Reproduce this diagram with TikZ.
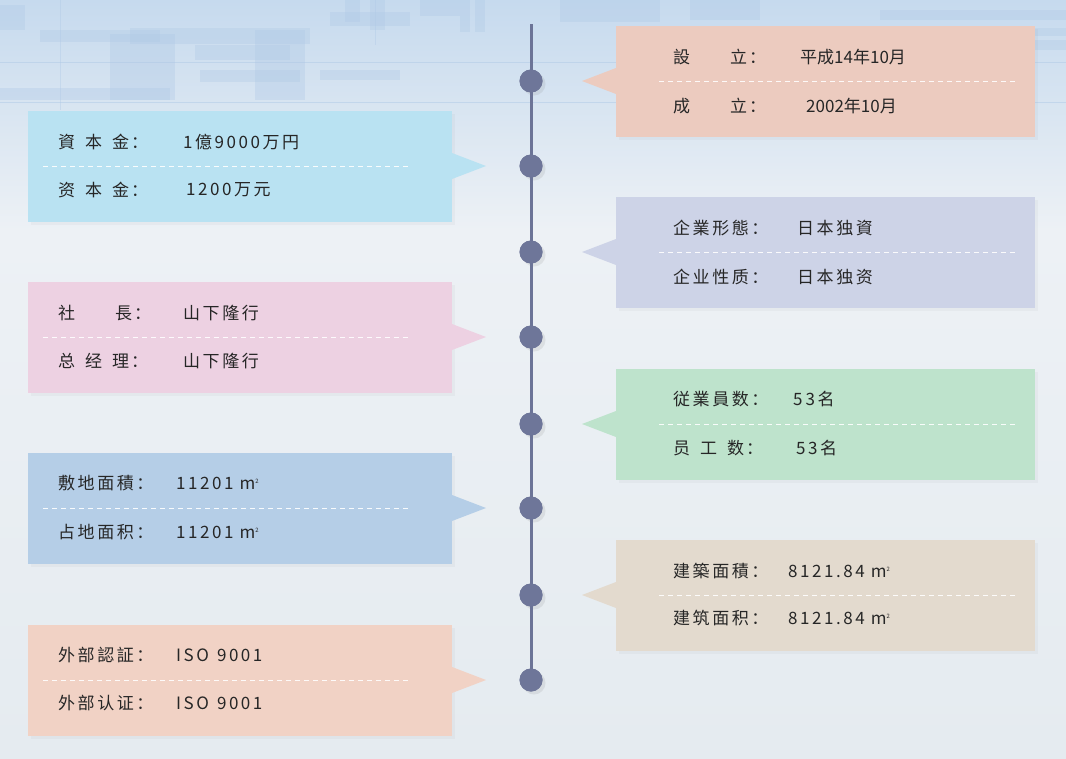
\documentclass[tikz,border=0pt]{standalone}
\usepackage{fontspec}
\setmainfont[LetterSpace=15]{Noto Sans CJK SC}
\newfontfamily\tightfont{Noto Sans CJK SC}
\usetikzlibrary{shadows}
\definecolor{txtc}{HTML}{262626}
\definecolor{linec}{HTML}{6C7497}
\definecolor{dotc}{HTML}{6E7699}
\definecolor{cSalmon}{HTML}{ECCBBF}
\definecolor{cSky}{HTML}{B9E2F2}
\definecolor{cLav}{HTML}{CDD3E7}
\definecolor{cPink}{HTML}{EDD1E2}
\definecolor{cGreen}{HTML}{BEE3CC}
\definecolor{cBlue}{HTML}{B5CEE7}
\definecolor{cBeige}{HTML}{E3DACE}
\definecolor{cPeach}{HTML}{F1D2C5}
\definecolor{bgTop}{HTML}{C6DAEE}
\definecolor{bgMid}{HTML}{EDF1F5}
\definecolor{bgBot}{HTML}{E5EBF0}
\definecolor{deco}{HTML}{AFC9E6}
\newcommand\sqm{\hspace{6pt}m\raisebox{0.55ex}{\fontsize{6}{6}\selectfont 2}}
\begin{document}
\begin{tikzpicture}[x=1pt,y=-1pt,
  softshadow/.style={drop shadow={shadow xshift=3pt, shadow yshift=-3pt, opacity=0.06}},
  lbox/.style={rectangle, minimum width=424pt, minimum height=111pt, inner sep=0pt, softshadow},
  rbox/.style={rectangle, minimum width=419pt, minimum height=111pt, inner sep=0pt, softshadow},
  dotnode/.style={circle, fill=dotc, minimum size=23pt, inner sep=0pt,
     drop shadow={shadow xshift=3pt, shadow yshift=-3pt, opacity=0.15}},
  sep/.style={draw=white, line width=1pt, dash pattern=on 5pt off 4pt, opacity=0.9},
  txt/.style={anchor=west, inner sep=0pt, text=txtc, font=\fontsize{17}{19}\selectfont},
  decorect/.style={fill=deco, opacity=0.35}
]
\useasboundingbox (0,0) rectangle (1066,758);
% background
\shade[top color=bgTop, bottom color=bgMid] (0,0) rectangle (1066,230);
\shade[top color=bgMid, bottom color=bgBot] (0,230) rectangle (1066,758);
% faint technical pattern at the top
\fill[decorect] (40,30) rectangle (160,42);
\fill[decorect] (130,28) rectangle (310,44);
\fill[decorect] (110,34) rectangle (175,100);
\fill[decorect] (195,45) rectangle (290,60);
\fill[decorect] (200,70) rectangle (300,82);
\fill[decorect] (255,30) rectangle (305,100);
\fill[decorect] (330,12) rectangle (410,26);
\fill[decorect] (320,70) rectangle (400,80);
\fill[decorect] (420,0) rectangle (460,16);
\fill[decorect] (345,0) rectangle (360,22);
\fill[decorect] (370,0) rectangle (385,30);
\fill[decorect] (460,0) rectangle (470,32);
\fill[decorect] (475,0) rectangle (485,32);
\fill[decorect] (0,88) rectangle (170,100);
\fill[decorect] (0,5) rectangle (25,30);
\fill[decorect] (560,0) rectangle (660,22);
\fill[decorect] (690,0) rectangle (760,20);
\fill[decorect] (880,10) rectangle (1066,20);
\fill[decorect] (900,28) rectangle (1066,36);
\fill[decorect] (960,40) rectangle (1066,50);
\draw[deco, opacity=0.5] (0,62) -- (1066,62);
\draw[deco, opacity=0.5] (0,102) -- (1066,102);
\draw[deco, opacity=0.4] (60,0) -- (60,110);
\draw[deco, opacity=0.4] (375,0) -- (375,45);

% timeline
\coordinate (top) at (531,24);
\node[dotnode] (d1) at (531,81) {};
\node[dotnode] (d2) at (531,166) {};
\node[dotnode] (d3) at (531,252) {};
\node[dotnode] (d4) at (531,337) {};
\node[dotnode] (d5) at (531,424) {};
\node[dotnode] (d6) at (531,508) {};
\node[dotnode] (d7) at (531,595) {};
\node[dotnode] (d8) at (531,680) {};
\draw[linec, line width=3pt] (top) -- (d8.center);
\foreach \n in {d1,d2,d3,d4,d5,d6,d7,d8}{
  \node[circle, fill=dotc, minimum size=23pt, inner sep=0pt] at (\n) {};
}

% right boxes
\node[rbox, fill=cSalmon] (r1) at (825.5,81) {};
\fill[cSalmon] (616,68) -- (582,81) -- (616,94) -- cycle;
\node[rbox, fill=cLav] (r2) at (825.5,252) {};
\fill[cLav] (616,239) -- (582,252) -- (616,265) -- cycle;
\node[rbox, fill=cGreen] (r3) at (825.5,424) {};
\fill[cGreen] (616,411) -- (582,424) -- (616,437) -- cycle;
\node[rbox, fill=cBeige] (r4) at (825.5,595) {};
\fill[cBeige] (616,582) -- (582,595) -- (616,608) -- cycle;

% left boxes
\node[lbox, fill=cSky] (l1) at (240,166) {};
\fill[cSky] (452,153) -- (486,166) -- (452,179) -- cycle;
\node[lbox, fill=cPink] (l2) at (240,337) {};
\fill[cPink] (452,324) -- (486,337) -- (452,350) -- cycle;
\node[lbox, fill=cBlue] (l3) at (240,508) {};
\fill[cBlue] (452,495) -- (486,508) -- (452,521) -- cycle;
\node[lbox, fill=cPeach] (l4) at (240,680) {};
\fill[cPeach] (452,667) -- (486,680) -- (452,693) -- cycle;

% dashed separators
\foreach \c in {81,252,424,595}{ \draw[sep] (659,\c) -- (1015,\c); }
\foreach \c in {166,337,508,680}{ \draw[sep] (43,\c) -- (410,\c); }

% texts right 1
\node[txt] (t1a) at (673,57) {設\hspace{40pt}立\hspace{2pt}：};
\node[txt] (v1a) at (800,57) {\tightfont 平成14年10月};
\node[txt] (t1b) at (673,106) {成\hspace{40pt}立\hspace{2pt}：};
\node[txt] (v1b) at (806,106) {\tightfont 2002年10月};
% left 1
\node[txt] (t2a) at (58,142) {資\hspace{10pt}本\hspace{10pt}金\hspace{2pt}：};
\node[txt] (v2a) at (183,142) {1億9000万円};
\node[txt] (t2b) at (58,190) {资\hspace{10pt}本\hspace{10pt}金\hspace{2pt}：};
\node[txt] (v2b) at (186,190) {1200万元};
% right 2
\node[txt] (t3a) at (673,228) {企業形態：};
\node[txt] (v3a) at (797,228) {日本独資};
\node[txt] (t3b) at (673,277) {企业性质：};
\node[txt] (v3b) at (797,277) {日本独资};
% left 2
\node[txt] (t4a) at (58,313) {社\hspace{40pt}長\hspace{2pt}：};
\node[txt] (v4a) at (183,313) {山下隆行};
\node[txt] (t4b) at (58,361) {总\hspace{10pt}经\hspace{10pt}理\hspace{2pt}：};
\node[txt] (v4b) at (183,361) {山下隆行};
% right 3
\node[txt] (t5a) at (673,399) {従業員数：};
\node[txt] (v5a) at (793,399) {5\hspace{3pt}3名};
\node[txt] (t5b) at (673,448) {员\hspace{10pt}工\hspace{10pt}数\hspace{2pt}：};
\node[txt] (v5b) at (796,448) {53名};
% left 3
\node[txt] (t6a) at (58,483) {敷地面積：};
\node[txt] (v6a) at (176,483) {11201\sqm};
\node[txt] (t6b) at (58,532) {占地面积：};
\node[txt] (v6b) at (176,532) {11201\sqm};
% right 4
\node[txt] (t7a) at (673,571) {建築面積：};
\node[txt] (v7a) at (788,571) {8121.84\sqm};
\node[txt] (t7b) at (673,618) {建筑面积：};
\node[txt] (v7b) at (788,618) {8121.84\sqm};
% left 4
\node[txt] (t8a) at (58,655) {外部認証：};
\node[txt] (v8a) at (176,655) {ISO\hspace{8pt}9001};
\node[txt] (t8b) at (58,703) {外部认证：};
\node[txt] (v8b) at (176,703) {ISO\hspace{8pt}9001};
\end{tikzpicture}
\end{document}
